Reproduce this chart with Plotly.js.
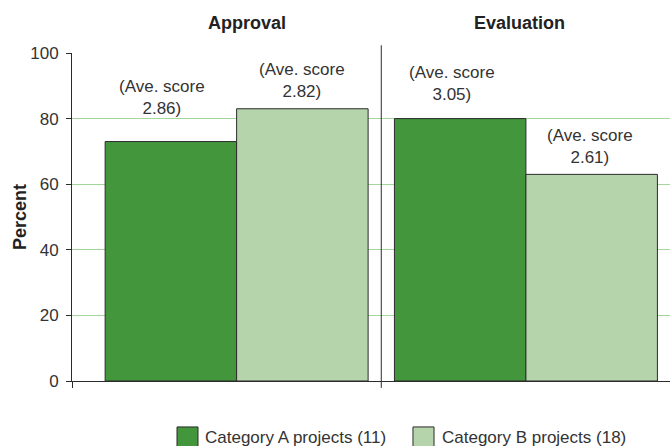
<!DOCTYPE html>
<html>
<head>
<meta charset="utf-8">
<script src="https://cdn.plot.ly/plotly-3.0.1.min.js"></script>
<style>
html,body{margin:0;padding:0;background:#fff;}
#chart{width:670px;height:446px;}
</style>
</head>
<body>
<div id="chart"></div>
<script>
// ---- data ----
const categories = ['Approval', 'Evaluation'];
const seriesNames = ['Category A projects (11)', 'Category B projects (18)'];
const catA = [73, 80];
const catB = [83, 63];
const scoresA = ['2.86', '3.05'];
const scoresB = ['2.82', '2.61'];
const yTicks = [0, 20, 40, 60, 80, 100];
const yTitle = 'Percent';

// ---- style ----
const FONT = '"Liberation Sans", Arial, sans-serif';
const FS = 17;
const colA = '#43963b';
const colB = '#b6d4ab';
const edge = '#2b2b2b';
const xRange = [-0.569, 1.498];
// label offsets (pixels) per series per category
const offA = {dx: [-9, -8], dy: [44, 35]};
const offB = {dx: [0, -2], dy: [28, 28]};

const xs = categories.map((c, i) => i);

const traces = [
  {type: 'bar', name: seriesNames[0], x: xs, y: catA,
   marker: {color: colA, line: {color: edge, width: 1}}, hoverinfo: 'none'},
  {type: 'bar', name: seriesNames[1], x: xs, y: catB,
   marker: {color: colB, line: {color: edge, width: 1}}, hoverinfo: 'none'}
];

const halfW = (1 - 0.091) / 4;
const annotations = [];
xs.forEach((x, i) => {
  annotations.push({x: x - halfW, y: catA[i], xref: 'x', yref: 'y',
    text: '(Ave. score<br>' + scoresA[i] + ')', showarrow: false,
    xanchor: 'center', yanchor: 'middle', xshift: offA.dx[i], yshift: offA.dy[i],
    font: {family: FONT, size: FS, color: '#333'}});
  annotations.push({x: x + halfW, y: catB[i], xref: 'x', yref: 'y',
    text: '(Ave. score<br>' + scoresB[i] + ')', showarrow: false,
    xanchor: 'center', yanchor: 'middle', xshift: offB.dx[i], yshift: offB.dy[i],
    font: {family: FONT, size: FS, color: '#333'}});
});
// category titles on top
const titleShift = [10, -6];
xs.forEach((x, i) => {
  annotations.push({x: x, y: 1.092, xref: 'x', yref: 'paper', text: '<b>' + categories[i] + '</b>',
    showarrow: false, xanchor: 'center', yanchor: 'middle', xshift: titleShift[i],
    font: {family: FONT, size: 18, color: '#222'}});
});
// y axis title
annotations.push({x: -0.087, y: 0.5, xref: 'paper', yref: 'paper', text: '<b>' + yTitle + '</b>',
  textangle: -90, showarrow: false, xanchor: 'center', yanchor: 'middle',
  font: {family: FONT, size: 18, color: '#222'}});
// manual legend
const legX = [[0.1756, 0.2107, 0.2190], [0.5702, 0.6054, 0.6154]];
const legCols = [colA, colB];
const shapes = [
  {type: 'line', xref: 'x', yref: 'paper', x0: 0.5, x1: 0.5, y0: -0.021, y1: 1.0235,
   line: {color: edge, width: 1}}
];
seriesNames.forEach((n, i) => {
  shapes.push({type: 'rect', xref: 'paper', yref: 'paper', x0: legX[i][0], x1: legX[i][1],
    y0: -0.1401, y1: -0.21, fillcolor: legCols[i], line: {color: edge, width: 1}});
  annotations.push({x: legX[i][2], y: -0.1736, xref: 'paper', yref: 'paper', text: n,
    showarrow: false, xanchor: 'left', yanchor: 'middle',
    font: {family: FONT, size: FS, color: '#333'}});
});

const layout = {
  width: 670, height: 446,
  margin: {l: 72, r: 0, t: 52.7, b: 65.3, pad: 0},
  paper_bgcolor: '#fff', plot_bgcolor: '#fff',
  showlegend: false,
  barmode: 'group', bargap: 0.091, bargroupgap: 0,
  font: {family: FONT, size: FS, color: '#333'},
  xaxis: {type: 'linear', range: xRange, showgrid: false, zeroline: false,
    showline: true, linecolor: edge, linewidth: 1,
    tickvals: [xRange[0]], ticks: 'outside', ticklen: 6, tickcolor: edge, showticklabels: false},
  yaxis: {range: [0, 100], tickvals: yTicks, ticktext: yTicks.map(String),
    showgrid: true, gridcolor: '#a3d69a', gridwidth: 1, zeroline: false,
    showline: true, linecolor: edge, linewidth: 1,
    ticks: 'outside', ticklen: 5, tickcolor: edge, ticklabelstandoff: 4,
    tickfont: {family: FONT, size: FS, color: '#333'}},
  annotations: annotations,
  shapes: shapes
};

Plotly.newPlot('chart', traces, layout, {displayModeBar: false, staticPlot: true});
</script>
</body>
</html>
